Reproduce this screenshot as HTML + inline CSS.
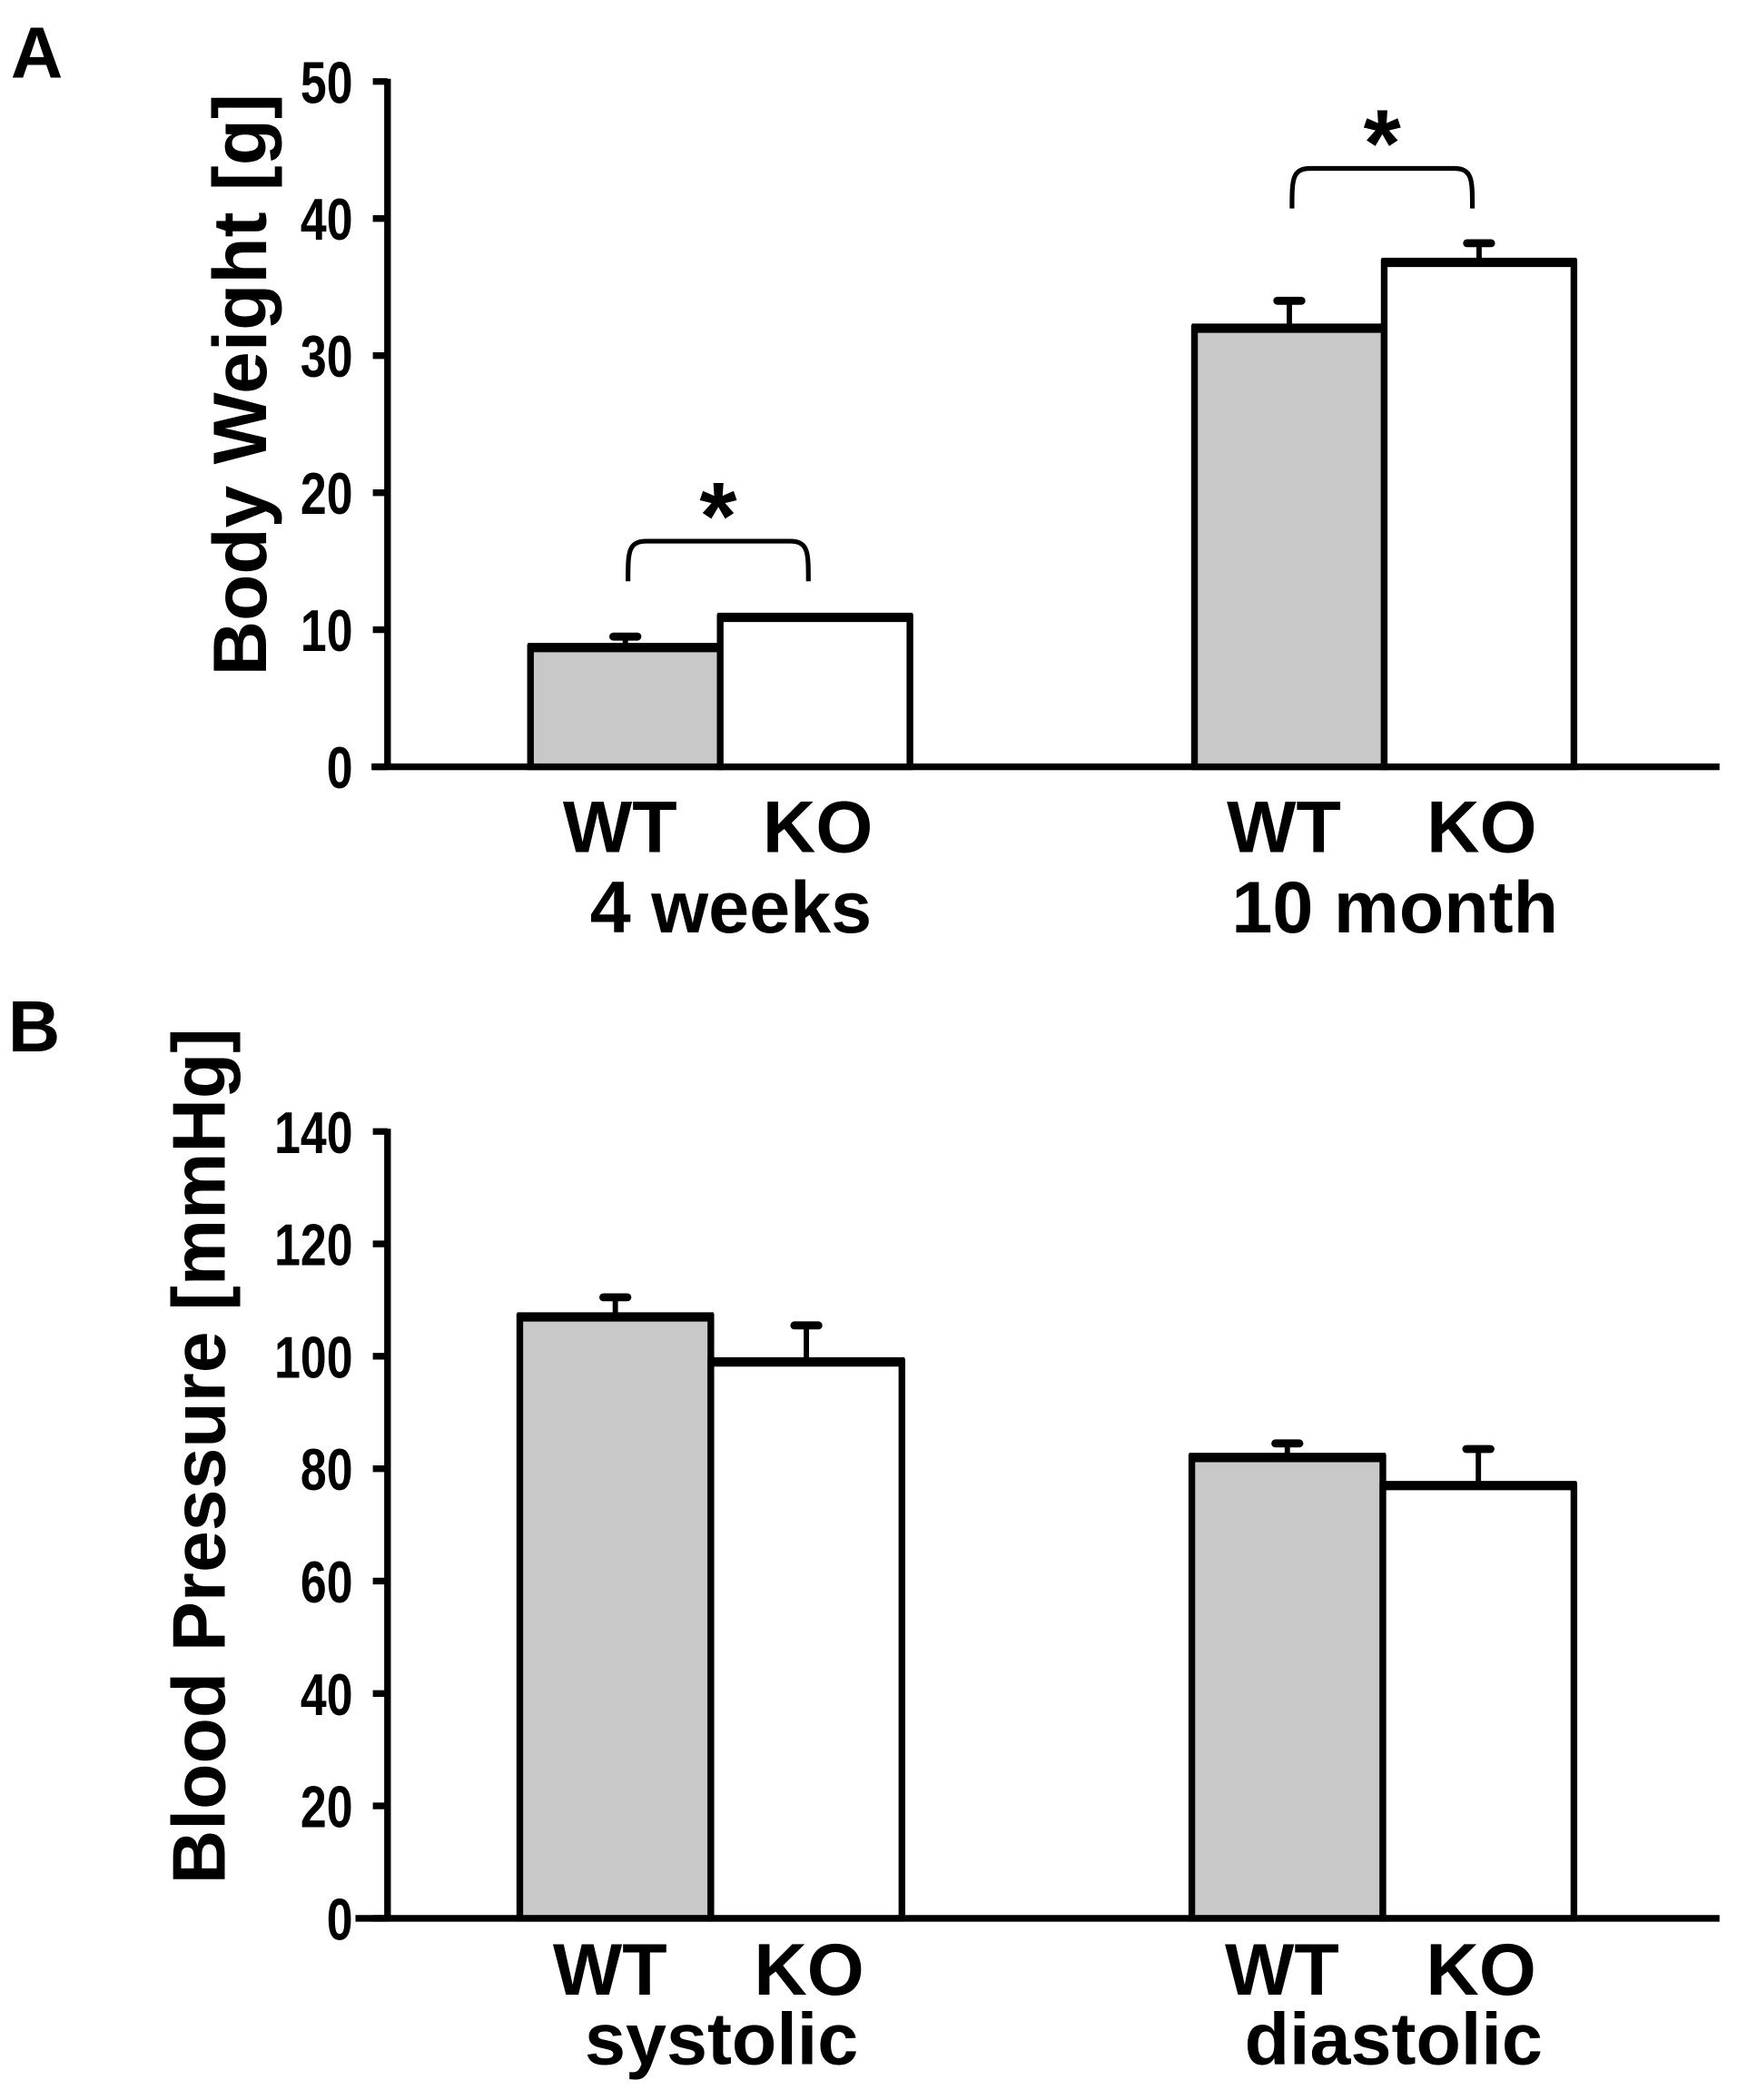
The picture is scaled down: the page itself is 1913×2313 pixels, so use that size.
<!DOCTYPE html>
<html><head><meta charset="utf-8"><style>
html,body{margin:0;padding:0;background:#fff;}
svg{display:block;}
text{font-family:"Liberation Sans",Arial,sans-serif;font-weight:bold;fill:#000;}
</style></head><body>
<svg id="fig" width="1913" height="2313" viewBox="0 0 1300 1572" xmlns="http://www.w3.org/2000/svg">
<text x="8" y="58" font-size="54">A</text>
<text x="6" y="787" font-size="54">B</text>
<g id="chartA"></g>
<g id="chartB"></g>
</svg>
<script>
// Panel A data
const catsA = ["4 weeks", "10 month"];
const wtA = [8.7, 32];
const koA = [10.9, 36.8];
const wtErrA = [0.8, 2.0];
const koErrA = [0.1, 1.4];
const ticksA = [0, 10, 20, 30, 40, 50];
const sigA = [true, true];
// Panel B data
const catsB = ["systolic", "diastolic"];
const wtB = [107, 82];
const koB = [99, 77];
const wtErrB = [3.5, 2.5];
const koErrB = [6.5, 6.5];
const ticksB = [0, 20, 40, 60, 80, 100, 120, 140];

const NS = "http://www.w3.org/2000/svg";
function mk(parent, tag, attrs, txt) {
  const e = document.createElementNS(NS, tag);
  for (const k in attrs) e.setAttribute(k, attrs[k]);
  if (txt !== undefined) e.textContent = txt;
  parent.appendChild(e);
  return e;
}

function draw(cfg) {
  const g = document.getElementById(cfg.id);
  const y = v => cfg.y0 - (v - cfg.vmin) / (cfg.vmax - cfg.vmin) * (cfg.y0 - cfg.y1);
  let ax = mk(g, "line", {x1: cfg.ax, y1: y(cfg.vmax) - 2, x2: cfg.ax, y2: cfg.y0, stroke: "#000", "stroke-width": 5});
  
  
  cfg.ticks.forEach(t => {
    const tk = mk(g, "line", {x1: cfg.ax - 11, y1: y(t), x2: cfg.ax, y2: y(t), stroke: "#000", "stroke-width": 5});
    
    
    const tl = mk(g, "text", {x: cfg.ax - 26, y: y(t) + 16, "font-size": 44, "text-anchor": "end", transform: `translate(${cfg.ax - 26},0) scale(0.8,1) translate(${-(cfg.ax - 26)},0)`}, String(t));
    
    
  });
  let xa = mk(g, "line", {x1: cfg.xaStart, y1: cfg.y0, x2: 1287, y2: cfg.y0, stroke: "#000", "stroke-width": 5});
  
  
  const tt = mk(g, "text", {x: 0, y: 0, "font-size": cfg.titleSize, "text-anchor": "middle", transform: `translate(${cfg.titleX},${cfg.titleY}) rotate(-90)`}, cfg.title);
  
  
  cfg.cats.forEach((c, i) => {
    const gx = cfg.groupX[i];
    const bars = [
      {v: cfg.wt[i], e: cfg.wtErr[i], x: gx, fill: "#c8c8c8", name: "bar-wt-"},
      {v: cfg.ko[i], e: cfg.koErr[i], x: gx + cfg.bw, fill: "#fff", name: "bar-ko-"}
    ];
    bars.forEach(b => {
      const cx = b.x + cfg.bw / 2;
      if (b.e > 0.3) {
        const el = mk(g, "line", {x1: cx, y1: y(b.v), x2: cx, y2: y(b.v + b.e), stroke: "#000", "stroke-width": 4});
        
        
        const cap = mk(g, "line", {x1: cx - 9, y1: y(b.v + b.e), x2: cx + 9, y2: y(b.v + b.e), stroke: "#000", "stroke-width": 6, "stroke-linecap": "round"});
        
        
      }
      const r = mk(g, "rect", {x: b.x, y: y(b.v), width: cfg.bw, height: cfg.y0 - y(b.v), fill: b.fill, stroke: "#000", "stroke-width": 5});
      
      
      const top = mk(g, "line", {x1: b.x - 2, y1: y(b.v), x2: b.x + cfg.bw + 2, y2: y(b.v), stroke: "#000", "stroke-width": 7});
      
      
    });
    const l1 = mk(g, "text", {x: gx + cfg.bw / 2 - 4, y: cfg.lblY, "font-size": 55, "text-anchor": "middle"}, "WT");
    
    
    const l2 = mk(g, "text", {x: gx + cfg.bw * 1.5 + 2, y: cfg.lblY, "font-size": 55, "text-anchor": "middle"}, "KO");
    
    
    const gl = mk(g, "text", {x: gx + cfg.bw + 8, y: cfg.grpY, "font-size": 55, "text-anchor": "middle"}, c);
    
    
    if (cfg.sig && cfg.sig[i]) {
      const top = Math.max(cfg.wt[i] + cfg.wtErr[i], cfg.ko[i] + cfg.koErr[i]);
      const by = y(top) - 56;
      const x1 = gx + cfg.bw / 2 + 2, x2 = gx + cfg.bw * 1.5 - 5;
      const br = mk(g, "path", {d: `M${x1},${by + 30} C${x1},${by + 8} ${x1},${by} ${x1 + 14},${by} L${x2 - 14},${by} C${x2},${by} ${x2},${by + 8} ${x2},${by + 30}`, fill: "none", stroke: "#000", "stroke-width": 3.5});
      
      
      const st = mk(g, "text", {x: (x1 + x2) / 2, y: by + 6, "font-size": 72, "text-anchor": "middle"}, "*");
      
      
    }
  });
}

draw({id: "chartA", cats: catsA, wt: wtA, ko: koA, wtErr: wtErrA, koErr: koErrA, ticks: ticksA, sig: sigA,
  vmin: 0, vmax: 50, y0: 574, y1: 61, ax: 290, xaStart: 278, bw: 142, groupX: [397, 894],
  title: "Body Weight [g]", titleSize: 57, titleX: 199, titleY: 288, lblY: 638, grpY: 698});
draw({id: "chartB", cats: catsB, wt: wtB, ko: koB, wtErr: wtErrB, koErr: koErrB, ticks: ticksB,
  vmin: 0, vmax: 140, y0: 1436, y1: 847, ax: 290, xaStart: 266, bw: 143, groupX: [389, 892],
  title: "Blood Pressure [mmHg]", titleSize: 56, titleX: 168, titleY: 1090, lblY: 1493, grpY: 1545});
</script>
</body></html>
